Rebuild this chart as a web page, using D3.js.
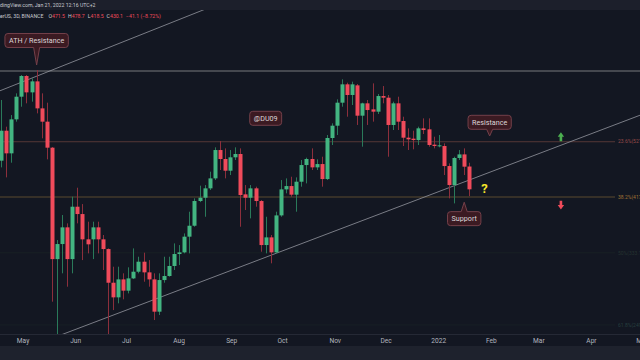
<!DOCTYPE html>
<html><head><meta charset="utf-8">
<script src="https://cdn.jsdelivr.net/npm/d3@7"></script>
<style>html,body{margin:0;padding:0;background:#131722;overflow:hidden}svg{display:block}</style>
</head><body><svg id="c" width="640" height="360"></svg>
<script>
// ---- DATA (BNB / TetherUS, 3D candles) ----
const firstCandle = "2021-04-18";
const candleStepDays = 3;
const open  = [482.7,544.7,497.2,570.2,624.7,679.0,635.7,664.5,596.0,564.9,508.7,324.7,345.0,369.0,324.7,401.0,389.3,351.6,351.6,369.0,351.6,338.1,295.2,278.3,299.2,285.9,300.4,308.6,321.3,307.8,299.2,262.7,298.4,303.3,315.8,331.4,333.6,355.4,371.4,410.3,415.8,431.8,449.5,503.9,486.0,463.6,489.3,495.9,421.5,415.8,431.8,410.3,343.6,354.4,333.6,387.2,430.0,435.8,420.9,443.5,474.3,486.0,469.9,476.2,448.3,528.9,555.8,609.8,656.6,629.0,653.9,578.7,608.2,593.6,588.1,626.4,622.2,557.4,608.2,566.4,529.6,527.5,524.6,549.9,547.7,514.9,512.1,512.1,472.4,437.6,488.0,495.1,471.5];
const high  = [616.4,553.6,580.2,633.2,681.7,681.7,672.6,695.6,633.2,609.8,510.0,350.6,387.8,375.0,417.5,432.9,405.3,377.5,377.5,377.5,357.8,339.0,314.9,314.9,306.6,314.1,339.0,327.8,333.2,323.4,306.6,306.6,327.8,327.8,345.9,343.6,360.1,393.0,414.7,436.5,437.6,461.8,509.4,522.5,507.3,503.9,509.4,507.3,437.6,437.6,434.7,411.9,385.1,357.8,393.0,446.5,449.5,452.5,451.3,484.0,488.6,507.3,485.3,490.5,535.3,561.1,618.1,669.9,661.0,663.7,657.5,609.8,616.4,659.2,631.5,652.1,629.0,612.3,624.7,576.3,549.9,544.7,553.6,572.5,572.5,531.7,535.3,517.6,477.5,490.5,503.9,507.3,478.7];
const low   = [469.9,451.3,478.8,564.9,600.0,608.2,612.3,584.1,528.2,485.3,273.5,239.1,306.6,290.5,306.6,375.0,323.4,332.3,324.7,332.3,310.7,239.1,264.4,271.7,276.1,282.8,299.6,306.6,296.4,290.5,254.0,259.2,295.2,302.5,310.7,317.0,332.3,332.3,369.9,408.5,385.1,428.9,446.5,464.9,449.5,455.6,484.0,369.9,395.7,382.6,401.0,334.5,332.3,319.2,332.3,385.1,423.2,417.5,393.0,434.7,440.5,464.9,464.9,434.7,446.5,514.2,535.3,600.0,576.3,604.1,557.4,510.7,557.4,564.9,582.6,608.2,490.5,546.2,546.2,512.1,503.9,505.3,514.2,537.5,510.7,507.3,509.4,455.6,414.7,406.4,484.0,455.6,418.5];
const close = [544.7,497.2,570.2,624.7,679.0,635.7,664.5,596.0,564.9,508.7,324.7,345.0,369.0,324.7,401.0,389.3,351.6,344.6,369.0,351.6,338.1,295.2,278.3,299.2,285.9,300.4,308.6,321.3,307.8,299.2,262.7,298.4,303.3,315.8,331.4,333.6,355.4,371.4,410.3,415.8,431.8,449.5,503.9,486.0,463.6,489.3,495.9,420.3,415.8,431.8,410.3,343.6,354.4,333.6,387.2,430.0,435.8,420.9,443.5,474.3,486.0,469.9,476.2,448.3,528.9,555.8,609.8,656.6,629.0,656.6,578.7,608.2,592.0,588.1,626.4,622.2,557.4,608.2,564.9,529.6,526.1,524.6,549.9,546.2,514.2,512.1,513.5,472.4,437.6,488.0,495.1,471.2,430.1];

const monthTicks  = ["2021-05-01","2021-06-01","2021-07-01","2021-08-01","2021-09-01","2021-10-01","2021-11-01","2021-12-01","2022-01-01","2022-02-01","2022-03-01","2022-04-01","2022-05-01"];
const monthLabels = ["May","Jun","Jul","Aug","Sep","Oct","Nov","Dec","2022","Feb","Mar","Apr","May"];

const fibLevels = ["0", "23.6%", "38.2%", "50%", "61.8%"];
const fibPrices = [692.9, 521.0, 417.0, 333.1, 249.0];

// trend lines: [date, price] pairs
const channelTop = [["2021-04-17", 639.1], ["2021-08-31", 925.0]];
const supportTrend = [["2021-05-23", 239.0], ["2022-04-30", 580.3]];

const notes = [
  {text:"ATH / Resistance", date:"2021-05-09", price:709.8, side:"bottom", gap:17.5},
  {text:"@DU09",            date:"2021-09-21", price:572.6, side:"none",   gap:0},
  {text:"Resistance",       date:"2022-01-31", price:533.2, side:"bottom", gap:6.7},
  {text:"Support",          date:"2022-01-16", price:408.3, side:"top",    gap:9.4}
];
const arrows = [
  {date:"2022-03-14", from:521.8, to:541.2, dir:"up"},
  {date:"2022-03-14", from:410.9, to:396.7, dir:"down"}
];
const question = {text:"?", date:"2022-01-28", price:432.4};

const headerLine1 = "Published on TradingView.com, Jan 21, 2022 12:16 UTC+2";
const headerCut1  = "Published on Tra";
const symbolText  = "BNB / TetherUS, 3D, BINANCE";
const symbolCut   = "BNB / Teth";
const ohlcLabels  = ["O","H","L","C"];
const ohlcValues  = ["471.5","478.7","418.5","430.1"];
const changeText  = "\u221241.1 (\u22128.72%)";

// ---- CHART ----
const W = 640, H = 360;
const parse = d3.utcParse("%Y-%m-%d");
const svg = d3.select("#c");
const x = d3.scaleUtc().domain([parse("2021-04-18"), parse("2022-01-19")]).range([1, 469.3]);
const y = d3.scaleLog().domain([240.1, 885.9]).range([334, 10]);
const plotTop = 10, plotBottom = 334;

svg.append("rect").attr("width", W).attr("height", H).attr("fill", "#131722");

const defs = svg.append("defs");
defs.append("clipPath").attr("id","plot").append("rect")
  .attr("x",0).attr("y",plotTop).attr("width",W).attr("height",plotBottom-plotTop);

const plot = svg.append("g").attr("clip-path","url(#plot)");

// fib lines
const fibColors = ["#45484f", "#553836", "#5a4a2e", "#192025", "#182026"];
const fibWidths = [2, 1, 1, 1, 1];
const fibEnd    = [640, 615, 615, 615, 615];
const fibText = ["#787b86", "#b85a55", "#c08a3a", "#2a3a34", "#2c4a46"];
fibPrices.forEach((p,i)=>{
  plot.append("line").attr("x1",0).attr("x2",fibEnd[i])
    .attr("y1",y(p)).attr("y2",y(p))
    .attr("stroke",fibColors[i]).attr("stroke-width",fibWidths[i]);
  if(i>0){
    svg.append("text").attr("x",618).attr("y",y(p)).attr("dy","0.35em")
      .attr("font-family","Roboto, sans-serif").attr("font-size",5)
      .attr("fill",fibText[i]).attr("opacity",0.8)
      .text(fibLevels[i]+"("+p.toFixed(1)+")");
  }
});

// trend lines
[channelTop, supportTrend].forEach(seg=>{
  plot.append("line")
    .attr("x1",x(parse(seg[0][0]))).attr("y1",y(seg[0][1]))
    .attr("x2",x(parse(seg[1][0]))).attr("y2",y(seg[1][1]))
    .attr("stroke","#9a9ca5").attr("stroke-width",0.9).attr("opacity",0.85);
});

// candles
const t0 = parse(firstCandle);
const candles = open.map((o,i)=>({
  date: d3.utcDay.offset(t0, i*candleStepDays), o, h:high[i], l:low[i], c:close[i]
}));
const bw = 4;
const up = "#43b581", down = "#f04b5b", upW = "#2a7a5a", downW = "#8c2f3c";
const cg = plot.append("g");
cg.selectAll("line.w").data(candles).join("line")
  .attr("x1",d=>Math.round(x(d.date))+0.5).attr("x2",d=>Math.round(x(d.date))+0.5)
  .attr("y1",d=>y(d.h)).attr("y2",d=>y(d.l))
  .attr("stroke",d=>d.c>=d.o?upW:downW).attr("stroke-width",1);
cg.selectAll("rect").data(candles).join("rect")
  .attr("x",d=>Math.round(x(d.date))+0.5-bw/2).attr("width",bw)
  .attr("y",d=>y(Math.max(d.o,d.c)))
  .attr("height",d=>Math.max(1, y(Math.min(d.o,d.c))-y(Math.max(d.o,d.c))))
  .attr("fill",d=>d.c>=d.o?up:down);

// annotations (callouts)
function calloutPath(x0,y0,x1,y1,r,tx,ty,side,hw){
  let p = `M${x0+r},${y0}`;
  if(side==="top") p += `L${tx-hw},${y0}L${tx},${ty}L${tx+hw},${y0}`;
  p += `L${x1-r},${y0}Q${x1},${y0} ${x1},${y0+r}L${x1},${y1-r}Q${x1},${y1} ${x1-r},${y1}`;
  if(side==="bottom") p += `L${tx+hw},${y1}L${tx},${ty}L${tx-hw},${y1}`;
  p += `L${x0+r},${y1}Q${x0},${y1} ${x0},${y1-r}L${x0},${y0+r}Q${x0},${y0} ${x0+r},${y0}Z`;
  return p;
}
const ag = svg.append("g");
notes.forEach(n=>{
  const tx = x(parse(n.date)), ty = y(n.price);
  const t = ag.append("text").attr("font-family","Roboto, sans-serif").attr("font-size",7.2)
    .attr("fill","#ddd6d8").attr("text-anchor","middle").text(n.text);
  const tw = t.node().getComputedTextLength();
  const bwid = tw + 8, bh = 14;
  let by0;
  if(n.side==="bottom") by0 = ty - n.gap - bh;
  else if(n.side==="top") by0 = ty + n.gap;
  else by0 = ty - bh/2;
  const bx0 = tx - bwid/2;
  ag.insert("path","text").attr("d",calloutPath(bx0,by0,bx0+bwid,by0+bh,3,tx,ty,n.side,3))
    .attr("fill","#3b1a22").attr("stroke","#74404a").attr("stroke-width",1);
  t.attr("x",tx).attr("y",by0+bh/2).attr("dy","0.36em");
});

// arrows
arrows.forEach(a=>{
  const ax = x(parse(a.date)), y1 = y(a.from), y2 = y(a.to);
  const dir = a.dir==="up" ? -1 : 1;
  const head = 4.5, hw = 3.2, sw = 1.3;
  const col = a.dir==="up" ? "#4caf50" : "#f04b5b";
  const p = `M${ax},${y2}L${ax+hw},${y2-dir*head}L${ax+sw},${y2-dir*head}L${ax+sw},${y1}L${ax-sw},${y1}L${ax-sw},${y2-dir*head}L${ax-hw},${y2-dir*head}Z`;
  svg.append("path").attr("d",p).attr("fill",col);
});

// question mark
svg.append("text").attr("x",x(parse(question.date))).attr("y",y(question.price)).attr("dy","0.36em")
  .attr("text-anchor","middle").attr("font-family","Roboto, sans-serif").attr("font-weight",700)
  .attr("font-size",13).attr("fill","#f5e32a").text(question.text);

// x axis
svg.append("line").attr("x1",0).attr("x2",W).attr("y1",plotBottom+0.5).attr("y2",plotBottom+0.5)
  .attr("stroke","#252935");
const xa = svg.append("g");
monthTicks.forEach((d,i)=>{
  xa.append("text").attr("x",x(parse(d))).attr("y",340.8).attr("dy","0.35em")
    .attr("text-anchor","middle").attr("font-family","Roboto, sans-serif").attr("font-size",6.6)
    .attr("fill","#b2b5be").text(monthLabels[i]);
});
svg.append("rect").attr("x",0).attr("y",346).attr("width",W).attr("height",14).attr("fill","#1e222d");

// header
svg.append("rect").attr("x",0).attr("y",0).attr("width",W).attr("height",10).attr("fill","#1c1f2b");
function measure(str,size){
  const t = svg.append("text").attr("font-family","Roboto, sans-serif").attr("font-size",size).text(str);
  const w = t.node().getComputedTextLength(); t.remove(); return w;
}
const hs = 5.2;
svg.append("text").attr("x",-measure(headerCut1,hs)).attr("y",5.6).attr("dy","0.35em")
  .attr("font-family","Roboto, sans-serif").attr("font-size",hs).attr("fill","#c8cad0").text(headerLine1);
const l2 = svg.append("text").attr("x",-measure(symbolCut,hs)).attr("y",15.8).attr("dy","0.35em")
  .attr("font-family","Roboto, sans-serif").attr("font-size",hs).attr("fill","#c8cad0");
l2.append("tspan").text(symbolText);
ohlcLabels.forEach((lab,i)=>{
  l2.append("tspan").attr("dx", i===0?5:3).attr("fill","#c8cad0").text(lab);
  l2.append("tspan").attr("fill","#f04b5b").text(ohlcValues[i]);
});
l2.append("tspan").attr("dx",3).attr("fill","#f04b5b").text(changeText);
</script>
</body></html>
